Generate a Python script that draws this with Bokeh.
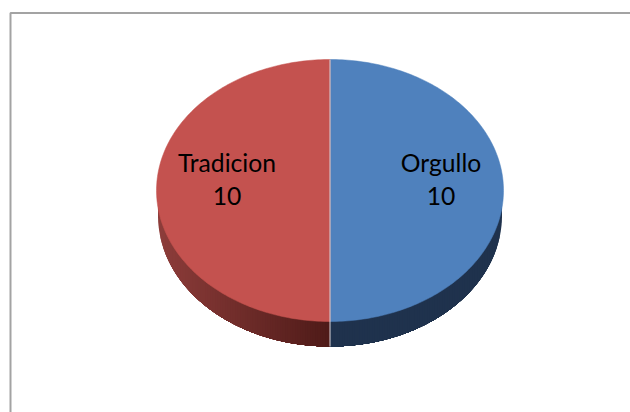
import numpy as np
from bokeh.core.properties import value
from bokeh.embed import file_html
from bokeh.models import ColumnDataSource, Range1d
from bokeh.plotting import figure
from bokeh.resources import INLINE

# Chart data
categories = ["Orgullo", "Tradicion"]
values = [10, 10]
top_colors = ["#4f81bd", "#c4524f"]
side_colors = [("#1f324d", "#1f324d"), ("#4e1a18", "#8d3d3a")]
label_x = [440.5, 226.5]

# Page-space geometry of the tilted disc; the lower rim is very slightly narrower
CX, CY, RX, RY, DEPTH, RIM_RX = 329.5, 190.0, 173.5, 131.0, 25.0, 172.0
NAME_MIDDLE, VALUE_MIDDLE = 162.0, 195.0
LABEL_SIZE = "18.5pt"
FONT = "Lato"
SHADE_STEPS = 70


def mix(a, b, t):
    ca = [int(a[i:i + 2], 16) for i in (1, 3, 5)]
    cb = [int(b[i:i + 2], 16) for i in (1, 3, 5)]
    return "#%02x%02x%02x" % tuple(round(x + (y - x) * t) for x, y in zip(ca, cb))


p = figure(width=630, height=412, output_backend="svg", toolbar_location=None,
           x_range=Range1d(0, 630), y_range=Range1d(412, 0),
           min_border=0, outline_line_color=None, background_fill_color="white",
           border_fill_color="white")
p.axis.visible = False
p.grid.visible = False

# Chart frame: only the top and left edges fall inside the page
p.line(x=[10, 10, 630], y=[412, 12.5, 12.5], line_color="#a3a3a3", line_width=2)

# Slices run clockwise from twelve o'clock
fractions = np.array(values, dtype=float) / sum(values)
starts = np.concatenate([[0.0], np.cumsum(fractions)[:-1]]) * 2 * np.pi
ends = np.cumsum(fractions) * 2 * np.pi


def ex(a):
    return CX + RX * np.sin(a)


def ey(a):
    return CY - RY * np.cos(a)


def rim_x(a):
    return CX + RIM_RX * np.sin(a)


def rim_y(a):
    return CY + DEPTH - RY * np.cos(a)


# Rim of each slice: nested shapes painted from the outer edge towards the bottom
# of the disc, each ending in a vertical cut, so the shade changes left to right
for s, e, (near, far) in zip(starts, ends, side_colors):
    on_left = s >= np.pi - 1e-9
    xs, ys, fills = [], [], []
    for t in np.linspace(1.0, 0.0, SHADE_STEPS):
        # t is the horizontal distance from the centre as a share of the radius
        offset = np.arcsin(t)
        outer = np.pi + offset if on_left else np.pi - offset
        arc = np.linspace(outer, np.pi, 120)
        xs.append(np.r_[CX, rim_x(outer), rim_x(arc)].tolist())
        ys.append(np.r_[CY, CY, rim_y(arc)].tolist())
        fills.append(mix(near, far, t))
    p.patches(xs="xs", ys="ys", fill_color="fills", line_color=None,
              source=ColumnDataSource(dict(xs=xs, ys=ys, fills=fills)))

# Top face of each slice
for s, e, color in zip(starts, ends, top_colors):
    a = np.linspace(s, e, 181)
    p.patch(np.r_[CX, ex(a)], np.r_[CY, ey(a)], fill_color=color, line_color=color, line_width=0.5)

# Pale seam between the two slices, down the face and the rim
p.line(x=[CX, CX], y=[CY - RY, CY + RY + DEPTH], line_color="#d9d3d8", line_width=1)

# Data labels: category above value
p.text(x=label_x, y=[NAME_MIDDLE] * 2, text=categories, text_font=value(FONT),
       text_font_size=LABEL_SIZE, text_align="center", text_baseline="middle", text_color="#000000")
p.text(x=label_x, y=[VALUE_MIDDLE] * 2, text=[str(v) for v in values], text_font=value(FONT),
       text_font_size=LABEL_SIZE, text_align="center", text_baseline="middle", text_color="#000000")

open("out.html", "w").write(file_html(p, INLINE))
